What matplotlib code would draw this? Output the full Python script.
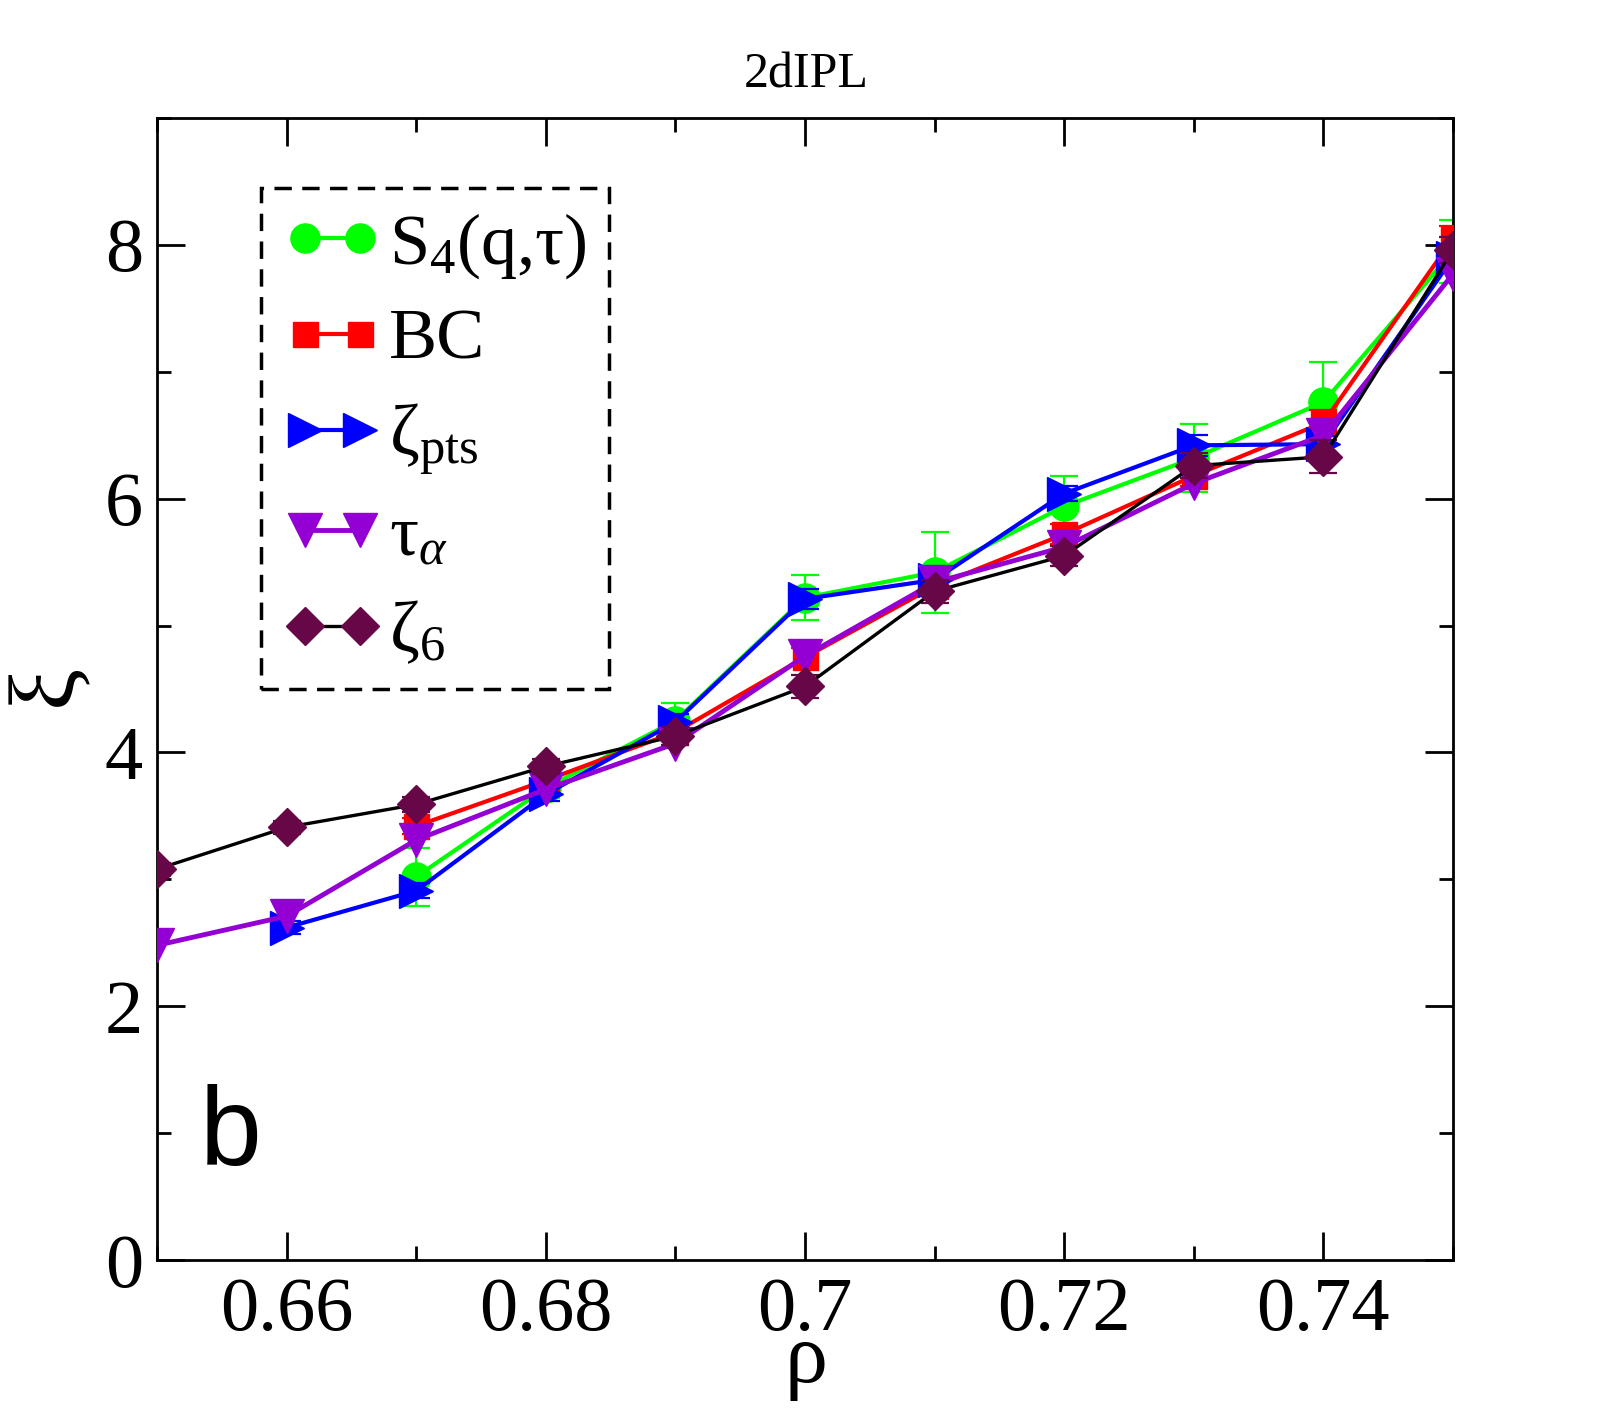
import matplotlib
matplotlib.use("Agg")
import matplotlib.pyplot as plt
from matplotlib.ticker import MultipleLocator, FixedLocator
from matplotlib.lines import Line2D

plt.rcParams['font.family'] = ['Liberation Serif', 'DejaVu Serif']
plt.rcParams['mathtext.fontset'] = 'custom'
plt.rcParams['mathtext.rm'] = 'Liberation Serif'
plt.rcParams['mathtext.it'] = 'Liberation Serif:italic'

# ---- data ----
rho = [0.65, 0.66, 0.67, 0.68, 0.69, 0.70, 0.71, 0.72, 0.73, 0.74, 0.75]

rho_s4 = [0.67, 0.68, 0.69, 0.70, 0.71, 0.72, 0.73, 0.74, 0.75]
xi_s4 = [3.02, 3.72, 4.25, 5.22, 5.42, 5.94, 6.32, 6.76, 7.95]
err_s4 = [0.23, 0.08, 0.14, 0.18, 0.32, 0.24, 0.27, 0.32, 0.25]

rho_bc = [0.67, 0.68, 0.69, 0.70, 0.71, 0.72, 0.73, 0.74, 0.75]
xi_bc = [3.42, 3.78, 4.16, 4.75, 5.31, 5.72, 6.18, 6.60, 8.05]
err_bc = [0.06, 0.05, 0.06, 0.07, 0.08, 0.08, 0.08, 0.10, 0.10]

rho_pts = [0.66, 0.67, 0.68, 0.69, 0.70, 0.71, 0.72, 0.73, 0.74, 0.75]
xi_pts = [2.62, 2.91, 3.67, 4.24, 5.21, 5.36, 6.04, 6.42, 6.43, 7.90]
err_pts = [0.05, 0.06, 0.05, 0.06, 0.08, 0.08, 0.06, 0.08, 0.06, 0.10]

rho_tau = rho
xi_tau = [2.48, 2.71, 3.31, 3.71, 4.07, 4.76, 5.34, 5.62, 6.12, 6.50, 7.77]

rho_z6 = rho
xi_z6 = [3.08, 3.41, 3.59, 3.89, 4.13, 4.52, 5.27, 5.55, 6.26, 6.33, 7.96]
err_z6 = [0.05, 0.05, 0.06, 0.06, 0.07, 0.09, 0.09, 0.08, 0.10, 0.13, 0.10]

labels = [r'S$_4$(q,τ)', 'BC', r'ζ$_{\mathrm{pts}}$', r'τ$_{α}$', r'ζ$_{6}$']
xticks = [0.66, 0.68, 0.70, 0.72, 0.74]
xticklabels = ['0.66', '0.68', '0.7', '0.72', '0.74']
yticks = [0, 2, 4, 6, 8]

green = '#00ff00'
red = '#ff0000'
blue = '#0000ff'
violet = '#9400d3'
maroon = '#670748'

fig = plt.figure(figsize=(16.13, 14.15), dpi=100)
ax = fig.add_axes([157/1613, 1 - 1260/1415, 1296/1613, 1142/1415])

lw = 3
cap = 10
ekw = dict(elinewidth=1.6, capsize=cap, capthick=1.6)
ax.errorbar(rho_s4, xi_s4, yerr=err_s4, color=green, lw=lw, marker='o', ms=21,
            mfc=green, mec=green, ecolor=green, zorder=2, **ekw)
ax.errorbar(rho_bc, xi_bc, yerr=err_bc, color=red, lw=lw, marker='s', ms=18,
            mfc=red, mec=red, ecolor=red, zorder=3, **ekw)
ax.errorbar(rho_pts, xi_pts, yerr=err_pts, color=blue, lw=lw, marker='>', ms=25,
            mfc=blue, mec=blue, ecolor=blue, zorder=4, **ekw)
ax.plot(rho_tau, xi_tau, color=violet, lw=lw + 0.5, marker='v', ms=25,
        mfc=violet, mec=violet, zorder=5)
ax.errorbar(rho_z6, xi_z6, yerr=err_z6, color='black', lw=lw * 0.8, marker='D', ms=19,
            mfc=maroon, mec=maroon, ecolor=maroon, zorder=6, **ekw)

handles = [
    Line2D([], [], color=green, lw=lw, marker='o', ms=21, mfc=green, mec=green),
    Line2D([], [], color=red, lw=lw, marker='s', ms=18, mfc=red, mec=red),
    Line2D([], [], color=blue, lw=lw, marker='>', ms=25, mfc=blue, mec=blue),
    Line2D([], [], color=violet, lw=lw + 0.5, marker='v', ms=25, mfc=violet, mec=violet),
    Line2D([], [], color='black', lw=lw * 0.8, marker='D', ms=19, mfc=maroon, mec=maroon),
]

ax.set_xlim(0.65, 0.75)
ax.set_ylim(0, 9)
ax.xaxis.set_major_locator(FixedLocator(xticks))
ax.set_xticklabels(xticklabels)
ax.xaxis.set_minor_locator(MultipleLocator(0.01))
ax.yaxis.set_major_locator(FixedLocator(yticks))
ax.yaxis.set_minor_locator(MultipleLocator(1))

for s in ax.spines.values():
    s.set_linewidth(2)
ax.tick_params(which='both', direction='in', top=True, right=True, width=2)
ax.tick_params(which='major', length=20, labelsize=55)
ax.tick_params(which='minor', length=10)
ax.tick_params(axis='x', which='major', pad=12)
ax.tick_params(axis='y', which='major', pad=10)

fig.text(806/1613, 1 - 1382/1415, 'ρ', fontsize=62, ha='center', va='baseline')
fig.text(48/1613, 1 - 685/1415, 'ξ', fontsize=68, ha='center', va='center', rotation=90)

fig.text(806/1613, 1 - 75/1415, '2dIPL', fontsize=36, ha='center', va='center')
ax.text(0.033, 0.083, 'b', transform=ax.transAxes, fontsize=80,
        family=['Liberation Sans', 'DejaVu Sans'], ha='left', va='baseline')

leg = ax.legend(handles, labels, loc='upper left', bbox_to_anchor=(0.080, 0.9387),
                borderaxespad=0, fontsize=52, numpoints=2, handlelength=1.35,
                handletextpad=0.1, labelspacing=0.38, borderpad=0.32,
                fancybox=False, framealpha=1)
fr = leg.get_frame()
fr.set_edgecolor('black')
fr.set_linewidth(2.5)
fr.set_linestyle((0, (5, 3)))

fig.savefig('out.png', dpi=100)
